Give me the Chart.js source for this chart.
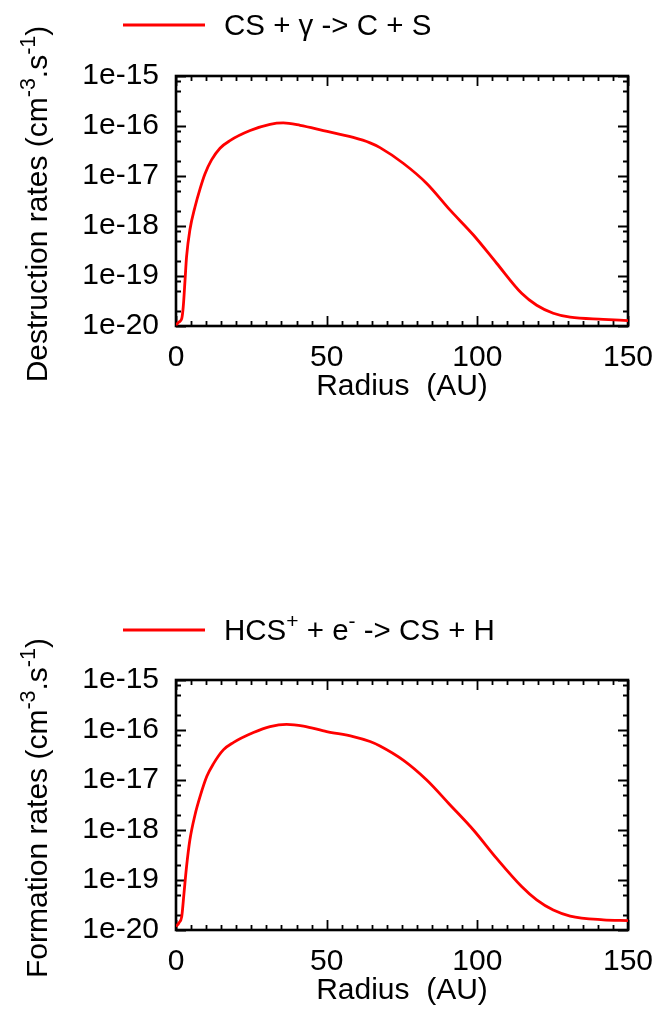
<!DOCTYPE html>
<html><head><meta charset="utf-8">
<script src="https://cdn.jsdelivr.net/npm/chart.js@4.4.1/dist/chart.umd.min.js"></script>
<style>
html,body{margin:0;padding:0;background:#fff;width:658px;height:1012px;overflow:hidden;}
canvas{display:block;position:absolute;left:0;}
</style>
</head><body>
<canvas id="c1" width="658" height="506" style="top:0"></canvas>
<canvas id="c2" width="658" height="506" style="top:506px"></canvas>
<script>
// ---- data ----
const radiusTop = [0, 1, 1.9, 2.4, 3.0, 3.5, 4.6, 6.3, 8.0, 9.6, 11.8, 14.6, 17.9, 24.6, 31.2, 35.6, 41.2, 48.9, 58.8, 64.4, 67.7, 75.4, 83.2, 90.9, 98.7, 106.4, 114.7, 119.7, 125.2, 130.8, 141.8, 150];
const destructionRates = [1.05e-20, 1.2e-20, 1.4e-20, 2.4e-20, 8.3e-20, 2.4e-19, 8.3e-19, 2.4e-18, 5.6e-18, 1.1e-17, 2.1e-17, 3.6e-17, 5.1e-17, 8.1e-17, 1.08e-16, 1.15e-16, 1.03e-16, 8.1e-17, 5.9e-17, 4.6e-17, 3.7e-17, 1.8e-17, 7.1e-18, 2.1e-18, 6.6e-19, 1.8e-19, 4.5e-20, 2.6e-20, 1.8e-20, 1.5e-20, 1.36e-20, 1.28e-20];

const radiusBottom = [0, 1, 1.9, 2.65, 3.5, 4.6, 6.3, 8.0, 10.2, 12.4, 15.7, 19.0, 25.7, 31.2, 36.7, 42.3, 50, 58.8, 64.4, 67.7, 75.4, 83.2, 90.9, 98.7, 106.4, 114.7, 119.7, 125.2, 130.8, 141.8, 150];
const formationRates = [1.17e-20, 1.4e-20, 1.85e-20, 5.4e-20, 1.85e-19, 6.3e-19, 2.0e-18, 4.7e-18, 1.17e-17, 2.1e-17, 4.0e-17, 5.6e-17, 8.9e-17, 1.17e-16, 1.3e-16, 1.2e-16, 9.3e-17, 7.4e-17, 5.9e-17, 4.8e-17, 2.5e-17, 1.0e-17, 3.2e-18, 1.0e-18, 2.7e-19, 7.4e-20, 4.0e-20, 2.5e-20, 1.9e-20, 1.6e-20, 1.54e-20];

const xMajorTicks = [0, 50, 100, 150];
const xMinorStep = 5;
const yDecades = [-20, -19, -18, -17, -16, -15];
const yMinorMultipliers = [2, 5, 8];

const legendTop = [{t:'CS + \u03B3 -> C + S'}];
const legendBottom = [{t:'HCS'},{t:'+',sup:true},{t:' + e'},{t:'-',sup:true},{t:' -> CS + H'}];
const yTitleTop = [{t:'Destruction rates (cm'},{t:'-3',sup:true},{t:'.s'},{t:'-1',sup:true},{t:')'}];
const yTitleBottom = [{t:'Formation rates (cm'},{t:'-3',sup:true},{t:'.s'},{t:'-1',sup:true},{t:')'}];
const xTitle = 'Radius  (AU)';

// ---- helpers ----
const FONT = '"Liberation Sans", Arial, Helvetica, sans-serif';
function decade(e){ return Number('1e' + e); }

function richWidth(ctx, segs, size, supSize){
  let w = 0;
  for (const s of segs){
    ctx.font = (s.sup ? supSize : size) + 'px ' + FONT;
    w += ctx.measureText(s.t).width;
  }
  return w;
}
function drawRich(ctx, segs, x, y, size, supSize, rise){
  ctx.textBaseline = 'alphabetic';
  ctx.textAlign = 'left';
  for (const s of segs){
    ctx.font = (s.sup ? supSize : size) + 'px ' + FONT;
    ctx.fillText(s.t, x, s.sup ? y - rise : y);
    x += ctx.measureText(s.t).width;
  }
}

function makeDecor(cfg){
  return {
    id: 'decor',
    beforeDatasetsDraw(chart){
      const ctx = chart.ctx, a = chart.chartArea;
      const xs = chart.scales.x, ys = chart.scales.y;
      ctx.save();
      ctx.strokeStyle = '#000';
      ctx.lineWidth = 1.8;
      ctx.beginPath();
      for (let v = 0; v <= 150; v += xMinorStep){
        const px = Math.round(xs.getPixelForValue(v)) + 0.5;
        const len = xMajorTicks.includes(v) ? 10 : 5;
        ctx.moveTo(px, a.bottom); ctx.lineTo(px, a.bottom - len);
        ctx.moveTo(px, a.top); ctx.lineTo(px, a.top + len);
      }
      const drawY = (val, len) => {
        const py = Math.round(ys.getPixelForValue(val)) + 0.5;
        ctx.moveTo(a.left, py); ctx.lineTo(a.left + len, py);
        ctx.moveTo(a.right, py); ctx.lineTo(a.right - len, py);
      };
      for (const e of yDecades){
        drawY(decade(e), 10);
        if (e < -15) for (const m of yMinorMultipliers) drawY(m * decade(e), 5);
      }
      ctx.stroke();
      ctx.lineWidth = 2.6;
      ctx.strokeRect(a.left, a.top, a.right - a.left, a.bottom - a.top);
      ctx.restore();
    },
    afterDraw(chart){
      const ctx = chart.ctx, a = chart.chartArea;
      ctx.save();
      ctx.fillStyle = '#000';
      // legend
      ctx.strokeStyle = '#ff0000';
      ctx.lineWidth = 2.8;
      ctx.beginPath();
      ctx.moveTo(123, cfg.legendY); ctx.lineTo(205, cfg.legendY);
      ctx.stroke();
      drawRich(ctx, cfg.legend, 224, cfg.legendY + 10, 29.5, 21, 12);
      // x title
      ctx.font = '30px ' + FONT;
      ctx.textAlign = 'center';
      ctx.textBaseline = 'alphabetic';
      ctx.fillText(xTitle, (a.left + a.right) / 2, a.bottom + 69);
      // y title
      const cy = (a.top + a.bottom) / 2 + 3;
      ctx.translate(47, cy);
      ctx.rotate(-Math.PI / 2);
      const w = richWidth(ctx, cfg.yTitle, 30, 21.5);
      drawRich(ctx, cfg.yTitle, -w / 2, 0, 30, 21.5, 12);
      ctx.restore();
    }
  };
}

function makeChart(id, xs, ys, cfg){
  const pts = xs.map((x, i) => ({x: x, y: ys[i]}));
  return new Chart(document.getElementById(id), {
    type: 'line',
    data: { datasets: [{
      data: pts,
      borderColor: '#ff0000',
      borderWidth: 2.8,
      pointRadius: 0,
      fill: false,
      cubicInterpolationMode: 'monotone'
    }]},
    options: {
      responsive: false,
      animation: false,
      devicePixelRatio: 1,
      layout: { padding: { left: 0, right: 30, top: cfg.top, bottom: 506 - cfg.bottom - 80 } },
      plugins: { legend: { display: false }, tooltip: { enabled: false }, title: { display: false } },
      scales: {
        x: {
          type: 'linear', min: 0, max: 150,
          afterBuildTicks: s => { s.ticks = xMajorTicks.map(v => ({value: v})); },
          afterFit: s => { s.height = 80; s.paddingLeft = 0; s.paddingRight = 0; },
          grid: { display: false, drawTicks: false },
          border: { display: false },
          ticks: { color: '#000', font: { family: FONT, size: 30 }, padding: 14, maxRotation: 0, autoSkip: false }
        },
        y: {
          type: 'logarithmic', min: decade(-20), max: decade(-15),
          afterBuildTicks: s => { s.ticks = yDecades.map(e => ({value: decade(e)})); },
          afterFit: s => { s.width = 176; s.paddingTop = 0; s.paddingBottom = 0; },
          grid: { display: false, drawTicks: false },
          border: { display: false },
          ticks: {
            color: '#000', font: { family: FONT, size: 30 }, padding: 17, autoSkip: false,
            callback: v => '1e' + Math.round(Math.log10(v))
          }
        }
      }
    },
    plugins: [makeDecor(cfg)]
  });
}

makeChart('c1', radiusTop, destructionRates, { top: 76, bottom: 326, legendY: 25, legend: legendTop, yTitle: yTitleTop });
makeChart('c2', radiusBottom, formationRates, { top: 174, bottom: 424, legendY: 124, legend: legendBottom, yTitle: yTitleBottom });
</script>
</body></html>
